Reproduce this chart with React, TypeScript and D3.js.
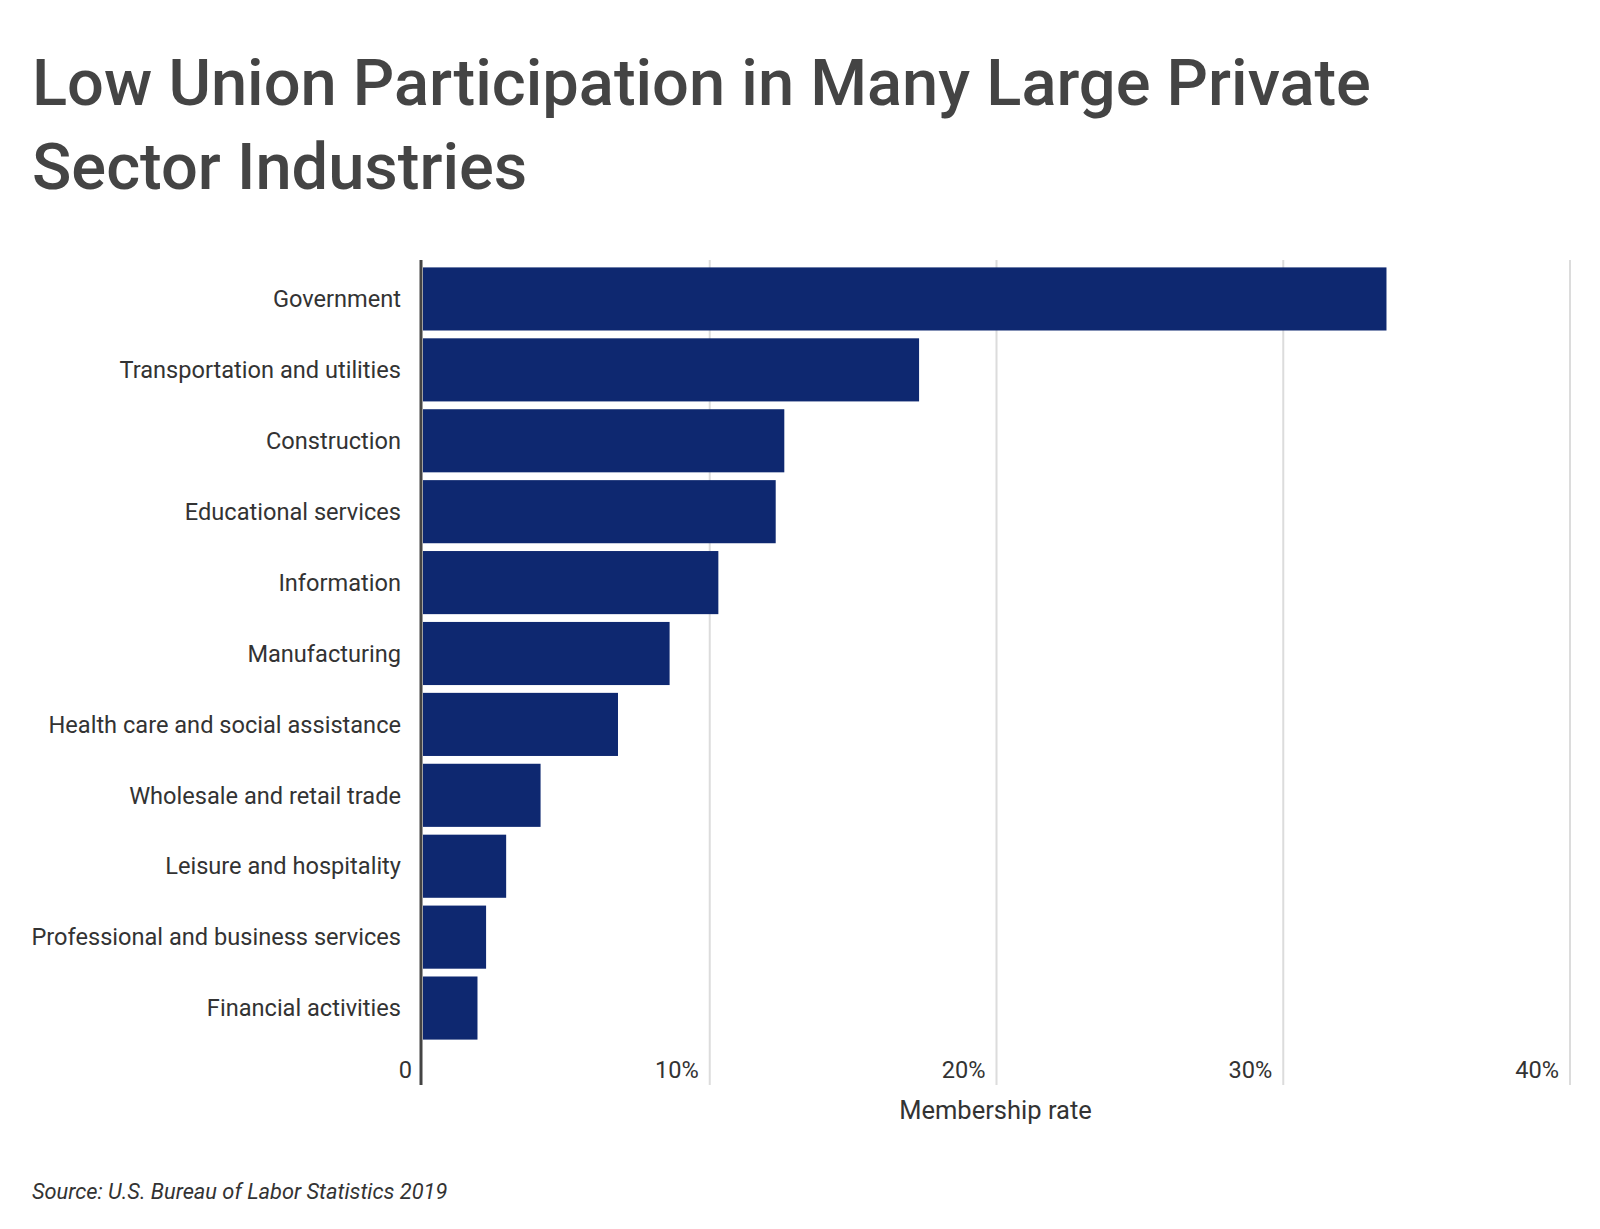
import React from "react";
import * as d3 from "d3";

const categories = [
  "Government",
  "Transportation and utilities",
  "Construction",
  "Educational services",
  "Information",
  "Manufacturing",
  "Health care and social assistance",
  "Wholesale and retail trade",
  "Leisure and hospitality",
  "Professional and business services",
  "Financial activities",
];
const values = [33.6, 17.3, 12.6, 12.3, 10.3, 8.6, 6.8, 4.1, 2.9, 2.2, 1.9];
const tickValues = [0, 10, 20, 30, 40];
const titleLines = ["Low Union Participation in Many Large Private", "Sector Industries"];
const axisTitle = "Membership rate";
const sourceText = "Source: U.S. Bureau of Labor Statistics 2019";

const W = 1600;
const H = 1229;

export default function App() {
  const x = d3.scaleLinear().domain([0, 40]).range([423, 1570]);
  const y = d3
    .scaleBand<string>()
    .domain(categories)
    .range([263.5, 1043.5])
    .paddingInner(0.11)
    .paddingOuter(0.055);
  const font = "Roboto, 'Noto Sans', sans-serif";
  return (
    <svg
      width={W}
      height={H}
      style={{ position: "absolute", left: 0, top: 0, background: "#fff" }}
      fontFamily={font}
    >
      <rect x={0} y={0} width={W} height={H} fill="#fff" />
      {titleLines.map((t, i) => (
        <text key={i} x={32} y={105 + i * 84} fontSize={65} fontWeight={500} fill="#444">
          {t}
        </text>
      ))}
      {tickValues.slice(1).map((t) => (
        <line key={t} x1={x(t)} x2={x(t)} y1={260} y2={1085} stroke="#dcdcdc" strokeWidth={2} />
      ))}
      {categories.map((c, i) => (
        <rect
          key={c}
          x={x(0)}
          y={y(c)}
          width={x(values[i]) - x(0)}
          height={y.bandwidth()}
          fill="#0e2870"
        />
      ))}
      <line x1={x(0) - 2} x2={x(0) - 2} y1={260} y2={1085} stroke="#444" strokeWidth={3} />
      {categories.map((c) => (
        <text
          key={c}
          x={401}
          y={(y(c) as number) + y.bandwidth() / 2}
          dy="0.35em"
          textAnchor="end"
          fontSize={23.6}
          fill="#333"
        >
          {c}
        </text>
      ))}
      {tickValues.map((t) => (
        <text key={t} x={x(t) - 11} y={1078} textAnchor="end" fontSize={23.6} fill="#333">
          {t === 0 ? "0" : `${t}%`}
        </text>
      ))}
      <text x={(x(0) + x(40)) / 2 - 1} y={1119} textAnchor="middle" fontSize={25.5} fill="#333">
        {axisTitle}
      </text>
      <text x={32} y={1199} fontSize={21.8} fontStyle="italic" fill="#333">
        {sourceText}
      </text>
    </svg>
  );
}
